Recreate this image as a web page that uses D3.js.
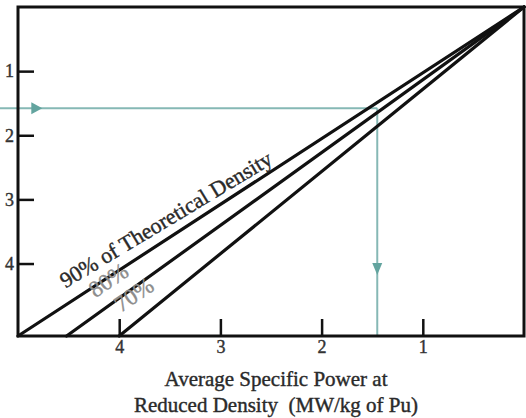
<!DOCTYPE html>
<html>
<head>
<meta charset="utf-8">
<script src="https://cdn.jsdelivr.net/npm/d3@7"></script>
<style>
  body { margin: 0; background: #fff; }
  svg { display: block; }
  text { font-family: "Liberation Serif", "Times New Roman", "DejaVu Serif", serif; }
</style>
</head>
<body>
<svg id="vis" width="526" height="418"></svg>
<script>
// density lines all start at (0,0) top-right and run to the bottom edge
var series = ["90%", "80%", "70%"];
var xAtBottom = [5.0, 4.52, 4.0];
var yBottom = 5.13;
var seriesLabels = ["90% of Theoretical Density", "80%", "70%"];

var xTicks = [4, 3, 2, 1];
var yTicks = [1, 2, 3, 4];

// teal guide: horizontal read-in, then vertical read-out
var guideY = 1.58;
var guideX = 1.45;
var arrowAtX = 4.76;
var arrowAtY = 4.18;

var titleLines = ["Average Specific Power at", "Reduced Density  (MW/kg of Pu)"];

var serif = "'Liberation Serif', 'Times New Roman', 'DejaVu Serif', serif";
var svg = d3.select("#vis");

var x = d3.scaleLinear().domain([5, 0]).range([18, 524]);
var y = d3.scaleLinear().domain([0, yBottom]).range([7, 336]);

var g = svg.append("g");

// teal guide lines
var teal = "#86b8b5";
g.append("line")
    .attr("x1", 0).attr("y1", y(guideY))
    .attr("x2", x(guideX)).attr("y2", y(guideY))
    .attr("stroke", teal).attr("stroke-width", 2);
g.append("line")
    .attr("x1", x(guideX)).attr("y1", y(guideY))
    .attr("x2", x(guideX)).attr("y2", y(yBottom))
    .attr("stroke", teal).attr("stroke-width", 2);

// arrow heads
var ax = x(arrowAtX), ay = y(guideY);
g.append("path")
    .attr("d", "M" + (ax - 11) + "," + (ay - 6) + "L" + ax + "," + ay + "L" + (ax - 11) + "," + (ay + 6) + "Z")
    .attr("fill", "#63a49f");
var vx = x(guideX), vy = y(arrowAtY);
g.append("path")
    .attr("d", "M" + (vx - 5) + "," + (vy - 12) + "L" + vx + "," + vy + "L" + (vx + 5) + "," + (vy - 12) + "Z")
    .attr("fill", "#63a49f");

// frame
g.append("rect")
    .attr("x", x(5)).attr("y", y(0))
    .attr("width", x(0) - x(5)).attr("height", y(yBottom) - y(0))
    .attr("fill", "none").attr("stroke", "#111").attr("stroke-width", 3);

// axes with inward ticks
var yAxis = g.append("g")
    .attr("transform", "translate(" + x(5) + ",0)")
    .call(d3.axisLeft(y).tickValues(yTicks).tickSize(-16).tickPadding(4).tickFormat(d3.format("d")));
var xAxis = g.append("g")
    .attr("transform", "translate(0," + y(yBottom) + ")")
    .call(d3.axisBottom(x).tickValues(xTicks).tickSize(-17).tickPadding(4).tickFormat(d3.format("d")));

[yAxis, xAxis].forEach(function(a) {
    a.attr("font-family", serif).attr("font-size", 18);
    a.select(".domain").remove();
    a.selectAll(".tick line").attr("stroke", "#111").attr("stroke-width", 2.5);
    a.selectAll(".tick text")
        .attr("fill", "#333")
        .attr("stroke", "#333").attr("stroke-width", 0.4);
});

// density lines
g.selectAll(".dens")
    .data(series)
    .enter()
    .append("line")
    .classed("dens", true)
    .attr("x1", x(0)).attr("y1", y(0))
    .attr("x2", function(d, i) { return x(xAtBottom[i]); })
    .attr("y2", y(yBottom))
    .attr("stroke", "#111")
    .attr("stroke-width", 3.2)
    .attr("stroke-linecap", "round");

// labels along lines: where on the line (x value), offset above it, size, colour, tilt
var place = [
    {at: 4.46, off: 14, size: 22, color: "#2a2a2a", tilt: 2},
    {at: 4.16, off: 14, size: 23, color: "#8c8c8c", tilt: 2},
    {at: 3.89, off: 17, size: 23, color: "#8c8c8c", tilt: 5}
];
seriesLabels.forEach(function(txt, i) {
    var p = place[i];
    var x0 = x(0), y0 = y(0);
    var x1 = x(xAtBottom[i]), y1 = y(yBottom);
    var t = p.at / xAtBottom[i];
    var px = x0 + (x1 - x0) * t, py = y0 + (y1 - y0) * t;
    var ang = Math.atan2(y0 - y1, x0 - x1) * 180 / Math.PI + p.tilt;
    g.append("text")
        .attr("transform", "translate(" + px + "," + py + ") rotate(" + ang + ") translate(0," + (-p.off) + ")")
        .attr("font-family", serif)
        .attr("font-size", p.size)
        .attr("fill", p.color)
        .attr("stroke", p.color).attr("stroke-width", 0.4)
        .text(txt);
});

// axis title
var title = g.append("text")
    .attr("text-anchor", "middle")
    .attr("font-family", serif)
    .attr("font-size", 21)
    .attr("fill", "#2a2a2a")
    .attr("stroke", "#2a2a2a").attr("stroke-width", 0.4);
title.selectAll("tspan")
    .data(titleLines)
    .enter()
    .append("tspan")
    .attr("x", 276)
    .attr("y", function(d, i) { return 386 + i * 26; })
    .attr("xml:space", "preserve")
    .text(function(d) { return d; });
</script>
</body>
</html>
